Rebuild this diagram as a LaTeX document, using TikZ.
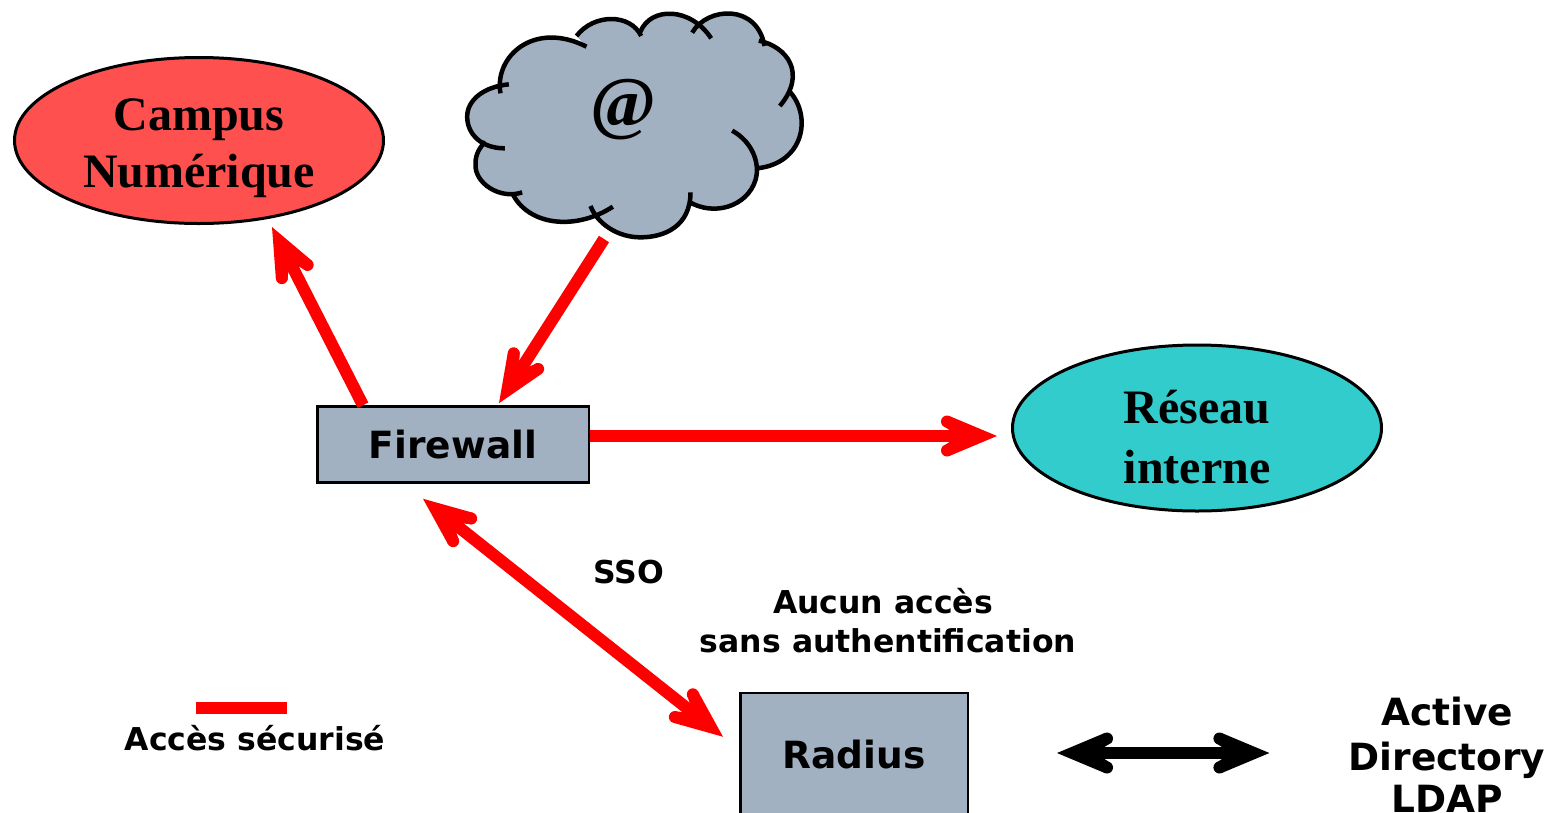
\documentclass[tikz,border=0pt]{standalone}
\usepackage{fontspec}
\setmainfont{Liberation Serif}
\newfontfamily\sansb{DejaVu Sans}
\usetikzlibrary{arrows.meta,shapes.geometric,calc}
\definecolor{boxgrey}{HTML}{A2B1C1}
\definecolor{campusred}{HTML}{FF5050}
\definecolor{reseauteal}{HTML}{33CCCC}
\pgfdeclarearrow{
  name=BarbHead,
  setup code={
    \pgfarrowssettipend{0pt}
    \pgfarrowssetlineend{-38pt}
    \pgfarrowssetvisualbackend{-38pt}
    \pgfarrowssetbackend{-56pt}
  },
  drawing code={
    \pgfpathmoveto{\pgfpoint{0pt}{0pt}}
    \pgfpathlineto{\pgfpoint{-47.7pt}{20pt}}
    \pgfpathlineto{\pgfpoint{-54.5pt}{10.5pt}}
    \pgfpathlineto{\pgfpoint{-38pt}{0pt}}
    \pgfpathlineto{\pgfpoint{-54.5pt}{-10.5pt}}
    \pgfpathlineto{\pgfpoint{-47.7pt}{-20pt}}
    \pgfpathclose
    \pgfusepathqfill
    \pgfpathcircle{\pgfpoint{-50pt}{14.5pt}}{6pt}
    \pgfusepathqfill
    \pgfpathcircle{\pgfpoint{-50pt}{-14.5pt}}{6pt}
    \pgfusepathqfill
  }
}
\tikzset{
  bluebox/.style={draw=black,fill=boxgrey,line width=2.5pt,rectangle,inner sep=0pt},
  blob/.style={draw=black,ellipse,line width=3pt,inner sep=0pt},
  serifb/.style={font=\bfseries\fontsize{48}{57}\selectfont,align=center,text=black},
  lab/.style={font=\sansb\bfseries\fontsize{31.5}{36}\selectfont,text=black,inner sep=0pt},
  boxlab/.style={font=\sansb\bfseries\fontsize{37.5}{43}\selectfont,text=black},
  redlink/.style={draw=red,line width=12pt},
  blacklink/.style={draw=black,line width=11.5pt}
}
\newcommand{\cloudpath}[1]{
  (150,280) .. controls (130,170) and (250,60) .. (408,140) #1
  (378,108) .. controls (430,40) and (540,40) .. (572,108) #1
  (570,95) .. controls (600,20) and (720,20) .. (782,115) #1
  (725,98) .. controls (770,20) and (920,10) .. (942,138) #1
  (925,122) .. controls (1010,140) and (1070,220) .. (988,318) #1
  (1018,275) .. controls (1085,350) and (1060,490) .. (920,505) #1
  (845,392) .. controls (905,425) and (930,490) .. (915,540) .. controls (890,620) and (790,650) .. (715,605) #1
  (720,577) .. controls (720,680) and (640,712) .. (570,712) .. controls (500,712) and (440,670) .. (420,618) #1
  (487,620) .. controls (380,690) and (240,680) .. (188,585) #1
  (215,577) .. controls (150,600) and (70,550) .. (75,490) .. controls (75,460) and (90,440) .. (105,425) #1
  (163,445) .. controls (90,445) and (50,400) .. (50,350) .. controls (50,300) and (100,260) .. (175,253)
}
\begin{document}
\begin{tikzpicture}[x=1pt,y=-1pt]
\useasboundingbox (0,0) rectangle (1550,812);
\clip (0,0) rectangle (1550,812);
\begin{scope}[shift={(450.5,0)},x=0.33333pt,y=-0.33333pt]
  \path[fill=boxgrey] \cloudpath{--} -- cycle;
  \path[draw=black,line width=4.5pt] \cloudpath{};
\end{scope}
\node[font=\bfseries\fontsize{71}{74}\selectfont,text=black] (at) at (623.5,110) {@};
\coordinate (cloudfoot) at (604,239);
\node[blob,fill=campusred,minimum width=369pt,minimum height=166pt] (campus) at (199,140.5) {};
\node[serifb] (campustxt) at (199,148) {Campus\\Numérique};
\node[blob,fill=reseauteal,minimum width=369pt,minimum height=166pt] (reseau) at (1197,428) {};
\node[serifb] (reseautxt) at (1197,437) {Réseau\\[3pt]interne};
\node[bluebox,minimum width=271.5pt,minimum height=76pt,boxlab] (fw) at (453,444.5) {Firewall};
\node[bluebox,minimum width=227.5pt,minimum height=124pt,boxlab] (radius) at (854,755) {Radius};
\node[lab] (sso) at (629,572) {SSO};
\node[lab] (aucun) at (883,601.5) {Aucun accès};
\node[lab] (sans) at (888,640.5) {sans authentification};
\node[lab] (legend) at (255,738) {Accès sécurisé};
\node[boxlab,inner sep=0pt] (ad1) at (1447,712) {Active};
\node[boxlab,inner sep=0pt] (ad2) at (1447,760) {Directory};
\node[boxlab,inner sep=0pt] (ad3) at (1447,799) {LDAP};
\coordinate (legL) at (196,708);
\coordinate (legR) at (287,708);
\draw[redlink,-BarbHead] ($(fw.north west)+(47,0)$) -- ($(campus.south)+(73,2)$);
\draw[redlink,-BarbHead] (cloudfoot) -- ($(fw.north)+(46,-2)$);
\draw[redlink,-BarbHead] ($(fw.east)+(0,-8.5)$) -- ($(reseau.west)+(-14,8)$);
\draw[redlink,BarbHead-BarbHead] ($(fw.south)+(-30,15)$) -- ($(radius.north west)+(-16,45)$);
\draw[blacklink,BarbHead-BarbHead] ($(radius.east)+(88,-2)$) -- ($(ad2.west)+(-79,-7)$);
\draw[draw=red,line width=12pt] (legL) -- (legR);
\end{tikzpicture}
\end{document}
